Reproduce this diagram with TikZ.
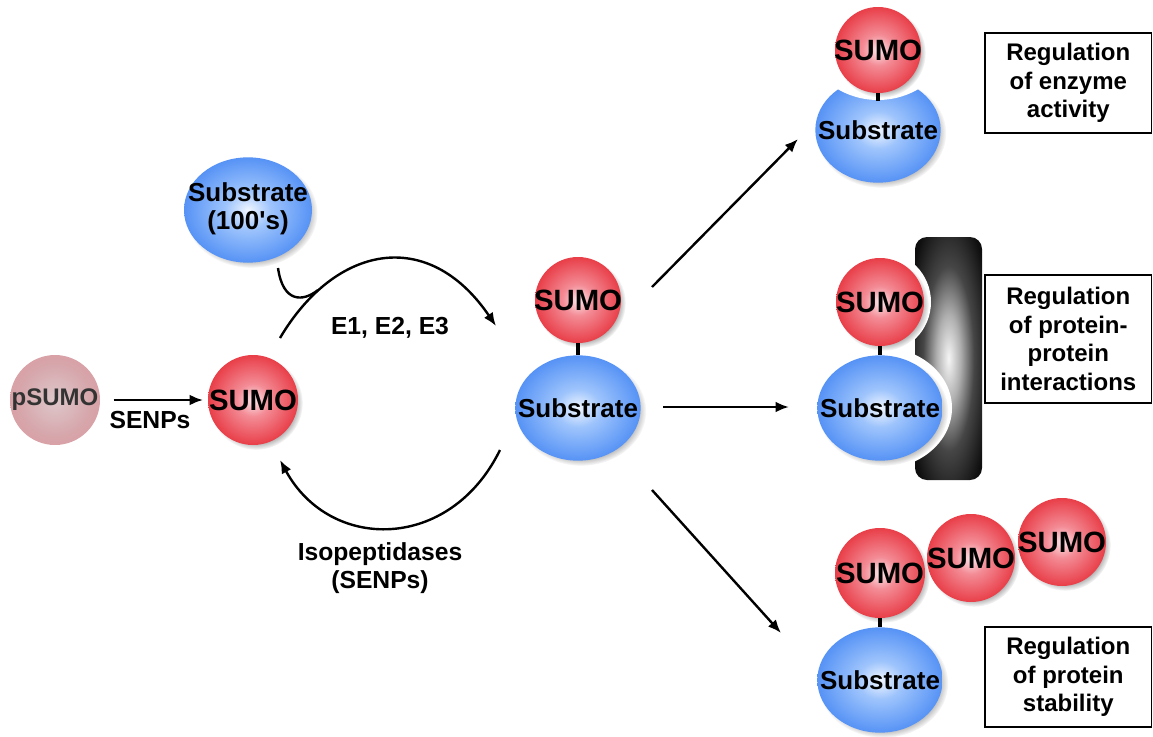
\documentclass[tikz,border=0pt]{standalone}
\usepackage{fontspec}
\setmainfont{Liberation Sans}
\usetikzlibrary{shapes.geometric,arrows.meta,shadows}

% ball colours
\definecolor{rb0}{RGB}{253,232,235}
\definecolor{rb1}{RGB}{243,140,150}
\definecolor{rb2}{RGB}{232,58,68}
\definecolor{rb3}{RGB}{222,36,46}
\definecolor{rb4}{RGB}{190,22,32}
\definecolor{bb0}{RGB}{240,246,255}
\definecolor{bb1}{RGB}{158,196,252}
\definecolor{bb2}{RGB}{82,144,245}
\definecolor{bb3}{RGB}{60,122,240}
\definecolor{bb4}{RGB}{38,94,215}
\definecolor{pb0}{RGB}{222,200,203}
\definecolor{pb1}{RGB}{214,166,171}
\definecolor{pb2}{RGB}{224,146,152}
\definecolor{pb3}{RGB}{238,196,198}
\definecolor{gb0}{RGB}{245,245,245}
\definecolor{gb1}{RGB}{175,175,175}
\definecolor{gb2}{RGB}{70,70,70}
\definecolor{gb3}{RGB}{15,15,15}
\definecolor{gb4}{RGB}{0,0,0}

\pgfdeclareradialshading{redball}{\pgfpoint{0bp}{0bp}}{color(0bp)=(rb0); color(9bp)=(rb1); color(26bp)=(rb2); color(44bp)=(rb3); color(50bp)=(rb4)}
\pgfdeclareradialshading{blueball}{\pgfpoint{0bp}{0bp}}{color(0bp)=(bb0); color(9bp)=(bb1); color(26bp)=(bb2); color(44bp)=(bb3); color(50bp)=(bb4)}
\pgfdeclareradialshading{paleball}{\pgfpoint{0bp}{0bp}}{color(0bp)=(pb0); color(20bp)=(pb1); color(42bp)=(pb2); color(50bp)=(pb3)}
\pgfdeclareradialshading{barshade}{\pgfpoint{0bp}{0bp}}{color(0bp)=(gb0); color(9bp)=(gb1); color(19bp)=(gb2); color(32bp)=(gb3); color(50bp)=(gb4)}

\newcommand\zb[1]{\makebox[0pt]{#1}}

\begin{document}
\begin{tikzpicture}[x=0.75pt,y=-0.75pt,
  ballshadow/.style={circular drop shadow={shadow xshift=2.2pt, shadow yshift=-2.2pt, shadow scale=1.04, opacity=.6}},
  sumo/.style={circle, minimum size=#1*1.5pt, inner sep=0pt, shade, shading=redball, ballshadow,
    font=\bfseries\fontsize{22}{22}\selectfont},
  sumo/.default=44,
  psumo/.style={circle, minimum size=67.5pt, inner sep=0pt, shade, shading=paleball,
    font=\bfseries\fontsize{18}{18}\selectfont, text=black!80},
  subs/.style={ellipse, minimum width=94pt, minimum height=79pt, inner sep=0pt, shade, shading=blueball, ballshadow,
    font=\bfseries\fontsize{19.5}{19.5}\selectfont},
  lbl/.style={font=\bfseries\fontsize{18.5}{21}\selectfont, align=center, inner sep=0pt},
  box/.style={draw=black, line width=0.8pt, fill=white, minimum width=125pt, align=center, inner sep=0pt,
    font=\bfseries\fontsize{18}{21.5}\selectfont},
  arr/.style={line width=1.8pt, -{Latex[length=10pt,width=8pt]}},
  curve/.style={line width=1.8pt},
  link/.style={line width=3.6pt}
]
\useasboundingbox (0,0) rectangle (1153,736);

% ---- precursor processing ----
\node[psumo] (psumo) at (55,400) {\zb{pSUMO}};
\node[sumo=45] (sumoL) at (253,400) {\zb{SUMO}};
\draw[arr, shorten <=10pt, shorten >=3.5pt] (psumo.east) -- (sumoL.west);
\node[lbl] (senps) at (150,420) {SENPs};

% ---- conjugation ----
\node[subs, minimum width=96pt] (s100) at (248,210) {\zb{\begin{tabular}{@{}c@{}}Substrate\\[1pt](100\textquotesingle s)\end{tabular}}};
\coordinate (e0) at (280,338);
\coordinate (e1) at (496,326);
\coordinate (t0) at (278,268);
\coordinate (t1) at (318,290);
\draw[curve] (t0) .. controls (283,303) and (303,302) .. (t1);
\draw[arr] (e0) .. controls (335,245) and (428,226) .. (e1);
\node[lbl] (enz) at (390,328) {E1, E2, E3};

% ---- conjugate ----
\node[subs] (subC) at (578,408) {\zb{Substrate}};
\node[sumo=43] (sumoC) at (578,300) {\zb{SUMO}};
\draw[link] (sumoC.south) -- (subC.north);

% ---- deconjugation ----
\coordinate (r0) at (500,450);
\coordinate (r1) at (280,460);
\draw[arr] (r0) .. controls (450,552) and (330,552) .. (r1);
\node[lbl] (iso) at (380,568) {Isopeptidases\\(SENPs)};

% ---- outcomes ----
\coordinate (a1s) at (652,287);
\coordinate (a1e) at (798,139);
\coordinate (a2s) at (663,407);
\coordinate (a2e) at (789,407);
\coordinate (a3s) at (652,490);
\coordinate (a3e) at (781,633);
\draw[arr] (a1s) -- (a1e);
\draw[arr] (a2s) -- (a2e);
\draw[arr] (a3s) -- (a3e);

% enzyme activity: substrate with a notch under SUMO
\node[subs] (subA) at (878,130) {\zb{Substrate}};
\fill[white] (878,20) circle (80);
\coordinate (notchA) at (878,101);
\node[sumo=43] (sumoA) at (878,50) {\zb{SUMO}};
\draw[link] (sumoA.south) -- (notchA);
\node[box, minimum height=75pt] (boxA) at (1068.3,83) {Regulation\\of enzyme\\activity};

% protein-protein interactions: partner bar with carved faces
\shade[shading=barshade, rounded corners=9] (915,237) rectangle (982,480);
\fill[white] (880,302) circle (51);
\fill[white] (880,408) ellipse (72 and 61);
\node[subs] (subB) at (880,408) {\zb{Substrate}};
\node[sumo=44] (sumoB) at (880,302) {\zb{SUMO}};
\draw[link] (sumoB.south) -- (subB.north);
\node[box, minimum height=96pt] (boxB) at (1068.3,339) {Regulation\\of protein-\\protein\\interactions};

% protein stability: poly-SUMO chain
\node[subs] (subD) at (880,680) {\zb{Substrate}};
\node[sumo=45] (sumoD1) at (880,573) {\zb{SUMO}};
\node[sumo=44] (sumoD2) at (971,558) {\zb{SUMO}};
\node[sumo=44] (sumoD3) at (1062,542) {\zb{SUMO}};
\draw[link] (sumoD1.south) -- (subD.north);
\node[box, minimum height=75pt] (boxD) at (1068.3,677) {Regulation\\of protein\\stability};
\end{tikzpicture}
\end{document}
